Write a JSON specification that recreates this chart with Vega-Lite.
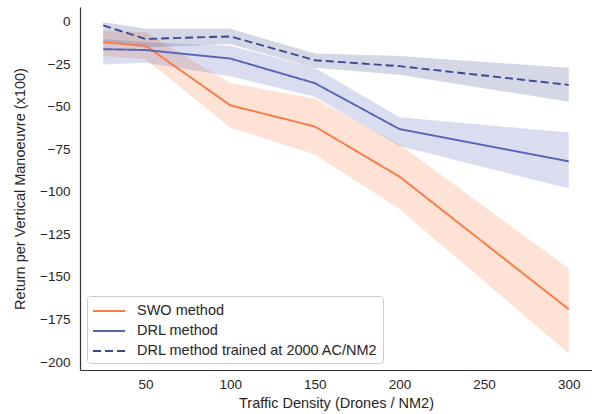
{
  "$schema": "https://vega.github.io/schema/vega-lite/v6.json",
  "width": 512,
  "height": 363,
  "autosize": {"type": "none"},
  "padding": {"left": 80, "top": 7, "right": 0, "bottom": 44},
  "config": {
    "view": {"stroke": null},
    "font": "Liberation Sans",
    "axis": {
      "grid": false,
      "ticks": false,
      "tickSize": 0,
      "domainColor": "#333333",
      "domainWidth": 1.2,
      "labelColor": "#262626",
      "labelFontSize": 13.5,
      "titleColor": "#262626",
      "titleFontSize": 14.5,
      "titleFontWeight": "normal"
    }
  },
  "data": {
    "values": [
      {"series": "SWO method", "x": 25, "y": -12, "lo": -20, "hi": -5},
      {"series": "SWO method", "x": 50, "y": -14, "lo": -22, "hi": -6},
      {"series": "SWO method", "x": 100, "y": -49, "lo": -62, "hi": -36},
      {"series": "SWO method", "x": 150, "y": -61.5, "lo": -78, "hi": -45},
      {"series": "SWO method", "x": 200, "y": -91, "lo": -110, "hi": -72},
      {"series": "SWO method", "x": 300, "y": -169, "lo": -195, "hi": -145},
      {"series": "DRL method", "x": 25, "y": -16, "lo": -25, "hi": -10},
      {"series": "DRL method", "x": 50, "y": -16.5, "lo": -24, "hi": -12},
      {"series": "DRL method", "x": 100, "y": -21.5, "lo": -32, "hi": -14},
      {"series": "DRL method", "x": 150, "y": -36, "lo": -44, "hi": -27},
      {"series": "DRL method", "x": 200, "y": -63, "lo": -73, "hi": -56},
      {"series": "DRL method", "x": 300, "y": -82, "lo": -98, "hi": -65},
      {"series": "DRL method trained at 2000 AC/NM2", "x": 25, "y": -2, "lo": -12, "hi": 0},
      {"series": "DRL method trained at 2000 AC/NM2", "x": 50, "y": -10, "lo": -15, "hi": -4},
      {"series": "DRL method trained at 2000 AC/NM2", "x": 100, "y": -8.5, "lo": -13, "hi": -4},
      {"series": "DRL method trained at 2000 AC/NM2", "x": 150, "y": -22.5, "lo": -27, "hi": -18.5},
      {"series": "DRL method trained at 2000 AC/NM2", "x": 200, "y": -26, "lo": -31, "hi": -20},
      {"series": "DRL method trained at 2000 AC/NM2", "x": 300, "y": -37, "lo": -47, "hi": -27}
    ]
  },
  "encoding": {
    "x": {
      "field": "x",
      "type": "quantitative",
      "scale": {"domain": [11.25, 313.75], "nice": false, "zero": false},
      "axis": {
        "title": "Traffic Density (Drones / NM2)",
        "values": [50, 100, 150, 200, 250, 300],
        "format": "d",
        "labelPadding": 7,
        "titlePadding": 6
      }
    },
    "color": {
      "field": "series",
      "type": "nominal",
      "scale": {
        "domain": ["SWO method", "DRL method", "DRL method trained at 2000 AC/NM2"],
        "range": ["#f97b45", "#5565b5", "#3b4a8f"]
      },
      "legend": {
        "title": null,
        "orient": "none",
        "legendX": 7,
        "legendY": 289,
        "padding": 5,
        "rowPadding": 3,
        "fillColor": "white",
        "strokeColor": "#cccccc",
        "cornerRadius": 3,
        "symbolType": "M-1.78,0H1.78",
        "symbolSize": 324,
        "symbolOffset": 7,
        "symbolStrokeWidth": 2,
        "symbolOpacity": 1,
        "labelFontSize": 14.5,
        "labelColor": "#262626",
        "labelOffset": 18,
        "labelLimit": 400
      }
    }
  },
  "layer": [
    {
      "mark": {"type": "area", "fillOpacity": 0.22, "stroke": null},
      "encoding": {
        "y": {"field": "lo", "type": "quantitative"},
        "y2": {"field": "hi"}
      }
    },
    {
      "mark": {"type": "line", "strokeWidth": 1.9},
      "encoding": {
        "y": {
          "field": "y",
          "type": "quantitative",
          "scale": {"domain": [-204.7, 8.8], "nice": false, "zero": false},
          "axis": {
            "title": "Return per Vertical Manoeuvre (x100)",
            "values": [0, -25, -50, -75, -100, -125, -150, -175, -200],
            "format": "d",
            "labelPadding": 10,
            "titlePadding": 12
          }
        },
        "strokeDash": {
          "field": "series",
          "type": "nominal",
          "scale": {
            "domain": ["SWO method", "DRL method", "DRL method trained at 2000 AC/NM2"],
            "range": [[1, 0], [1, 0], [8, 4]]
          },
          "legend": {
            "title": null,
            "orient": "none",
            "legendX": 7,
            "legendY": 289,
            "symbolType": "M-1.78,0H1.78",
            "symbolSize": 324,
            "symbolStrokeWidth": 2
          }
        }
      }
    }
  ]
}
